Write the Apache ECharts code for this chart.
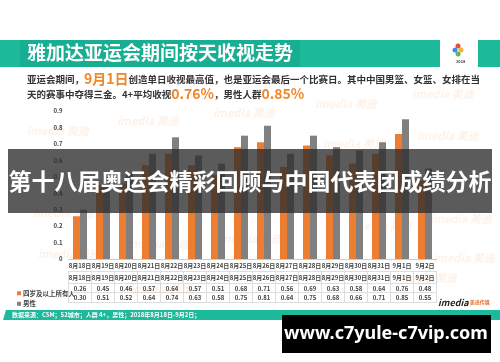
<!DOCTYPE html>
<html><head><meta charset="utf-8">
<script src="https://cdn.jsdelivr.net/npm/echarts@6/dist/echarts.min.js"></script>
<style>html,body{margin:0;padding:0;background:#fff}#c{width:500px;height:362px}</style>
</head><body><div id="c"></div>
<script>
var categories = ['8月18日','8月19日','8月20日','8月21日','8月22日','8月23日','8月24日','8月25日','8月26日','8月27日','8月28日','8月29日','8月30日','8月31日','9月1日','9月2日'];
var allViewers = [0.26,0.45,0.46,0.57,0.64,0.57,0.51,0.68,0.71,0.56,0.69,0.63,0.58,0.64,0.76,0.48];
var maleViewers = [0.30,0.51,0.52,0.64,0.74,0.63,0.58,0.75,0.81,0.64,0.75,0.68,0.66,0.71,0.85,0.55];
var seriesNames = ['四岁及以上所有人','男性'];
var yTicks = [0,0.1,0.2,0.3,0.4,0.5,0.6,0.7,0.8,0.9];

var FONT = '"Noto Sans CJK SC", "Noto Sans", sans-serif';
var ORANGE = '#ED7D31', GRAY = '#808080', TEAL = '#1CB99B';
var chart = echarts.init(document.getElementById('c'), null, {renderer:'canvas'});

var wm = [[27,125],[117,115],[213,107],[315,98],[412,88],[120,158],[32,165],[417,130],[323,138],[33,207],[430,213],[350,220],[127,238],[220,233],[38,248],[433,252],[130,283],[395,272]];
var graphics = [];
wm.forEach(function(p){
  graphics.push({type:'text', left:p[0], top:p[1], z:1, silent:true,
    style:{text:'imedia 美迪', fill:'rgba(240,150,80,0.13)', font:'italic bold 11px '+FONT}});
});
graphics = graphics.concat([
  {type:'rect', shape:{x:0,y:40,width:440,height:27}, style:{fill:TEAL}, z:5},
  {type:'rect', shape:{x:20,y:40,width:280,height:27}, style:{fill:'#17AE91'}, z:5},
  {type:'rect', shape:{x:478,y:40,width:22,height:27}, style:{fill:TEAL}, z:5},
  {type:'text', left:27, top:43, z:6, style:{text:'雅加达亚运会期间按天收视走势', fill:'#fff', font:'bold 19px '+FONT}},
  {type:'circle', shape:{cx:458,cy:46,r:2.5}, style:{fill:'#e94b3c'}, z:6},
  {type:'circle', shape:{cx:455,cy:50,r:2.5}, style:{fill:'#3c8de9'}, z:6},
  {type:'circle', shape:{cx:461,cy:50,r:2.5}, style:{fill:'#f2b632'}, z:6},
  {type:'circle', shape:{cx:458,cy:54,r:2.5}, style:{fill:'#5cb85c'}, z:6},
  {type:'text', left:456, top:59, z:6, style:{text:'2018', fill:'#444', font:'bold 4px '+FONT}},
  {type:'text', left:27, top:72, z:6, style:{
    text:'{a|亚运会期间，}{b|9月1日}{a|创造单日收视最高值，也是亚运会最后一个比赛日。其中中国男篮、女篮、女排在当}',
    rich:{a:{fill:'#333', font:'bold 9.5px '+FONT}, b:{fill:'#F0882A', font:'bold 14px '+FONT}}}},
  {type:'text', left:27, top:87, z:6, style:{
    text:'{a|天的赛事中夺得三金。4+平均收视}{b|0.76%}{a|，男性人群}{b|0.85%}',
    rich:{a:{fill:'#333', font:'bold 9.5px '+FONT}, b:{fill:'#F0882A', font:'bold 14px '+FONT}}}},
  {type:'polygon', shape:{points:[[6,310],[500,310],[500,320],[3,320]]}, style:{fill:TEAL}, z:5},
  {type:'text', left:12, top:311.5, z:6, style:{text:'数据来源：CSM；52城市；人群 4+，男性；2018年8月18日-9月2日；', fill:'#fff', font:'bold 6px '+FONT}},
  {type:'text', left:438, top:298, z:6, style:{text:'{a|imedia}{b| 美迪传媒}', rich:{a:{fill:'#222', font:'italic bold 9px '+FONT}, b:{fill:'#E8742A', font:'bold 5px '+FONT}}}},
  {type:'rect', shape:{x:8,y:149,width:484,height:64}, style:{fill:'rgba(45,45,45,0.78)'}, z:100},
  {type:'text', x:250, y:181, z:101, style:{text:'第十八届奥运会精彩回顾与中国代表团成绩分析', fill:'#fff', font:'bold 23px '+FONT, textAlign:'center', textVerticalAlign:'middle'}},
  {type:'rect', shape:{x:282,y:315,width:209,height:38}, style:{fill:'#000'}, z:100},
  {type:'text', x:386, y:334, z:101, style:{text:'www.c7yule-c7vip.com', fill:'#fff', font:'bold 18px "Noto Sans", sans-serif', textAlign:'center', textVerticalAlign:'middle'}}
]);

var lbl = {fontSize:6, color:'#444', fontWeight:'bold', fontFamily:FONT};
var option = {
  animation:false,
  backgroundColor:'#fff',
  textStyle:{fontFamily:FONT},
  grid:{left:68.5, right:63.5, top:111, bottom:103},
  legend:{orient:'vertical', left:12, top:285, itemWidth:4, itemHeight:4, itemGap:4,
    icon:'rect', data:seriesNames, textStyle:{fontSize:6.5, color:'#444', fontWeight:'bold', padding:[0,0,0,-3]}},
  xAxis:[
    {type:'category', data:categories, axisLine:{show:true, lineStyle:{color:'#ccc'}}, axisTick:{show:false},
      axisLabel:Object.assign({margin:4, interval:0}, lbl)},
    {type:'category', data:categories, position:'bottom', offset:12, axisLine:{lineStyle:{color:'#ddd'}},
      axisTick:{show:true, length:31, lineStyle:{color:'#ddd'}}, axisLabel:Object.assign({margin:4, interval:0}, lbl)},
    {type:'category', data:categories, position:'bottom', offset:24, axisLine:{lineStyle:{color:'#ddd'}}, axisTick:{show:false},
      axisLabel:Object.assign({margin:3, interval:0, formatter:function(v,i){return allViewers[i].toFixed(2);}}, lbl)},
    {type:'category', data:categories, position:'bottom', offset:33, axisLine:{lineStyle:{color:'#ddd'}}, axisTick:{show:false},
      axisLabel:Object.assign({margin:3, interval:0, formatter:function(v,i){return maleViewers[i].toFixed(2);}}, lbl)},
    {type:'category', data:categories, position:'bottom', offset:43, axisLine:{lineStyle:{color:'#ddd'}}, axisTick:{show:false},
      axisLabel:{show:false}}
  ],
  yAxis:{type:'value', min:0, max:0.9, interval:0.1, splitLine:{show:false}, axisLine:{show:false}, axisTick:{show:false},
    axisLabel:Object.assign({margin:6, formatter:function(v){ var t=yTicks.find(function(k){return Math.abs(k-v)<1e-6;}); return t===0?'0':String(t);}}, lbl)},
  series:[
    {name:seriesNames[0], type:'bar', data:allViewers, barWidth:7, barGap:'0%', itemStyle:{color:ORANGE}, z:2},
    {name:seriesNames[1], type:'bar', data:maleViewers, barWidth:7, barGap:'0%', itemStyle:{color:GRAY}, z:2}
  ],
  graphic:graphics
};
chart.setOption(option);
</script></body></html>
